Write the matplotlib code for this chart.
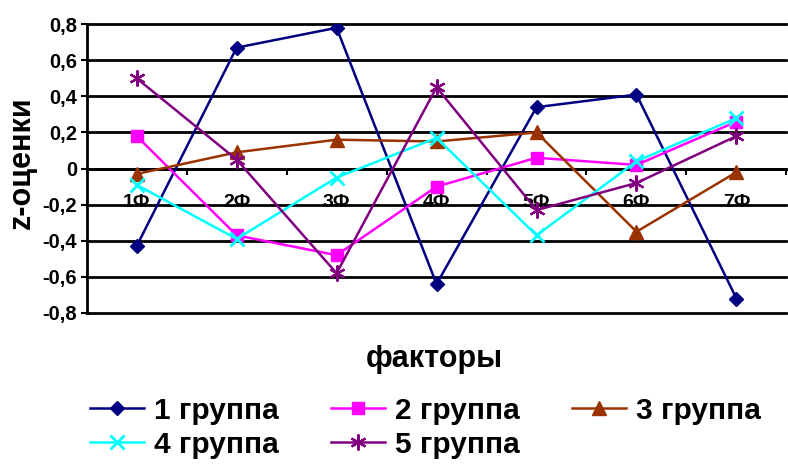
import matplotlib.pyplot as plt
from matplotlib.ticker import FixedLocator, FuncFormatter

plt.rcParams['font.family'] = ['Liberation Sans', 'DejaVu Sans']
plt.rcParams['font.weight'] = 'bold'

# data
factors = ['1Ф', '2Ф', '3Ф', '4Ф', '5Ф', '6Ф', '7Ф']
group1 = [-0.43, 0.67, 0.78, -0.64, 0.34, 0.41, -0.72]
group2 = [0.18, -0.37, -0.48, -0.10, 0.06, 0.02, 0.26]
group3 = [-0.03, 0.09, 0.16, 0.15, 0.20, -0.35, -0.02]
group4 = [-0.09, -0.39, -0.05, 0.17, -0.37, 0.04, 0.28]
group5 = [0.50, 0.05, -0.58, 0.45, -0.23, -0.08, 0.18]
names = ['1 группа', '2 группа', '3 группа', '4 группа', '5 группа']

styles = [
    dict(color='#000080', marker='D', ms=7.5),
    dict(color='#FF00FF', marker='s', ms=8.5),
    dict(color='#993300', marker='^', ms=9.5),
    dict(color='#00FFFF', marker='x', ms=9.5, mew=2),
    dict(color='#800080', marker=(6, 2, 0), ms=11.5, mew=1.6),
]

fig = plt.figure(figsize=(7.88, 4.65), dpi=100)
ax = fig.add_axes([0.110, 0.327, 0.888, 0.621])

x = list(range(len(factors)))
lines = []
for vals, name, st in zip([group1, group2, group3, group4, group5], names, styles):
    ln, = ax.plot(x, vals, lw=1.8, label=name, zorder=3, **st)
    lines.append(ln)

ax.set_xlim(-0.5, len(factors) - 0.5)
ax.set_ylim(-0.8, 0.8)
yt = [-0.8, -0.6, -0.4, -0.2, 0, 0.2, 0.4, 0.6, 0.8]
ax.set_yticks(yt)
ax.yaxis.set_major_formatter(FuncFormatter(
    lambda v, p: '0' if abs(v) < 1e-9 else ('%.1f' % v).replace('.', ',')))
ax.tick_params(axis='y', labelsize=14.5, length=4, width=1.5, pad=3)
for v in yt:
    ax.axhline(v, color='black', lw=2, zorder=1, clip_on=False)

# category axis at zero
ax.spines['bottom'].set_position(('data', 0))
ax.spines['bottom'].set_linewidth(2)
ax.spines['left'].set_linewidth(2)
ax.spines['top'].set_visible(False)
ax.spines['right'].set_visible(False)
ax.set_xticks(x)
ax.set_xticklabels(factors)
ax.xaxis.set_minor_locator(FixedLocator([i + 0.5 for i in x]))
ax.tick_params(axis='x', which='major', length=0, pad=18, labelsize=14)
ax.tick_params(axis='x', which='minor', length=4, width=1.5, direction='out')

for lab in ax.get_xticklabels() + ax.get_yticklabels():
    lab.set_fontweight('bold')

fig.text(0.028, 0.65, 'z-оценки', rotation=90, fontsize=22,
         fontweight='bold', ha='center', va='center')
fig.text(0.551, 0.228, 'факторы', fontsize=22, fontweight='bold',
         ha='center', va='center')

# row-major order as in the reference legend
order = [0, 3, 1, 4, 2]
fig.legend([lines[i] for i in order], [names[i] for i in order],
           loc='center', bbox_to_anchor=(0.540, 0.080), ncol=3, frameon=False,
           prop={'size': 21.5, 'weight': 'bold'}, handlelength=1.8,
           columnspacing=1.75, handletextpad=0.35, labelspacing=0.2,
           borderpad=0.1)

fig.savefig('out.png', dpi=100)
